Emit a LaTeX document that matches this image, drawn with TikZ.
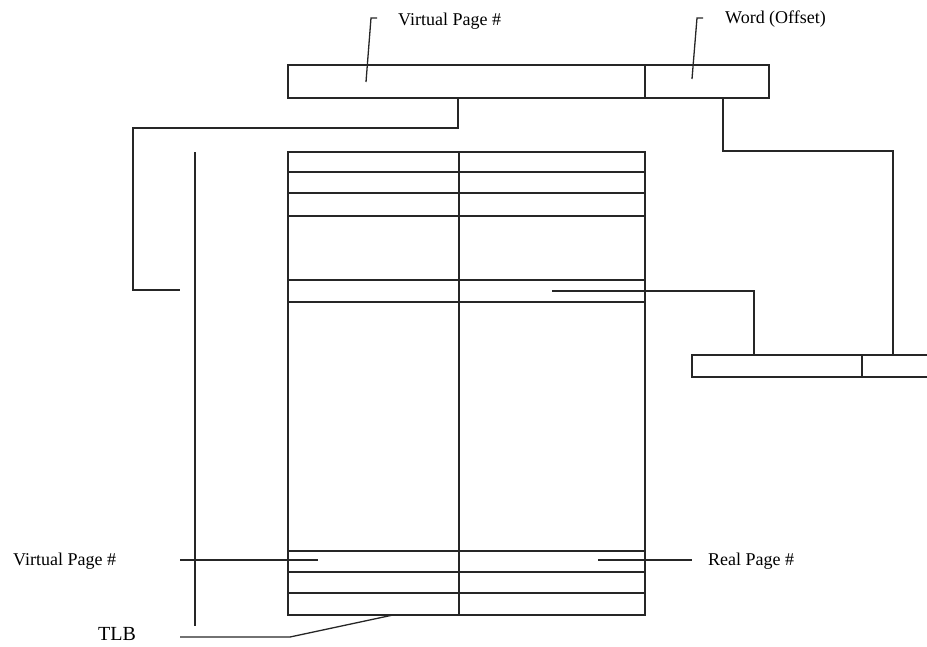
\documentclass[tikz,border=0pt]{standalone}
\usepackage{fontspec}
\setmainfont{Liberation Serif}
\begin{document}
\begin{tikzpicture}[x=1pt,y=-1pt,
  ln/.style={line width=1.3pt,black!85},
  reg/.style={draw,line width=1.3pt,black!85,inner sep=0pt,outer sep=0pt,rectangle},
  lbl/.style={inner sep=0pt,font=\fontsize{18}{20}\selectfont,anchor=west},
  big/.style={inner sep=0pt,font=\fontsize{20}{22}\selectfont}]
\useasboundingbox (0,0) rectangle (927,646);
% top address register
\node[reg,minimum width=357pt,minimum height=33pt] (vpn) at (466.5,81.5) {};
\node[reg,minimum width=124pt,minimum height=33pt] (wo) at (707,81.5) {};
% labels
\node[lbl] (lvpn) at (398,21) {Virtual Page \#};
\node[lbl] (lwo) at (725,19) {Word (Offset)};
\coordinate (p1) at (366,82);
\coordinate (p2) at (692,79);
\draw[ln] (p1) -- (371,18) -- (377,18);
\draw[ln] (p2) -- (697,18) -- (703,18);
% TLB table
\node[reg,minimum width=357pt,minimum height=463pt] (tlb) at (466.5,383.5) {};
\draw[ln] (tlb.north -| 459,0) -- (tlb.south -| 459,0);
\foreach \y in {172,193,216,280,302,551,572,593}
  \draw[ln] (tlb.west |- 0,\y) -- (tlb.east |- 0,\y);
% real address register
\coordinate (rr) at (927,355);
\draw[ln] (927,355) -- (692,355) -- (692,377) -- (927,377);
\coordinate (rrdiv) at (862,355);
\draw[ln] (rrdiv) -- (862,377);
% connector: virtual page to TLB
\coordinate (c1) at (180,290);
\draw[ln] (vpn.south -| 458,0) -- (458,128) -- (133,128) -- (133,290) -- (c1);
% connector: offset to real register
\draw[ln] (wo.south -| 723,0) -- (723,151) -- (893,151) -- (893,355);
% connector: matched entry to real page
\coordinate (m1) at (552,291);
\draw[ln] (m1) -- (754,291) -- (754,355);
% TLB bracket
\coordinate (b1) at (195,152);
\draw[ln] (b1) -- (195,626);
% bottom labels
\node[lbl] (lvp2) at (13,561) {Virtual Page \#};
\node[lbl] (lrp) at (708,561) {Real Page \#};
\draw[ln] (180,560) -- (318,560);
\draw[ln] (598,560) -- (692,560);
\node[big] (ltlb) at (117,634) {TLB};
\draw[ln] (180,637) -- (290,637) -- (393,615);
\end{tikzpicture}
\end{document}
